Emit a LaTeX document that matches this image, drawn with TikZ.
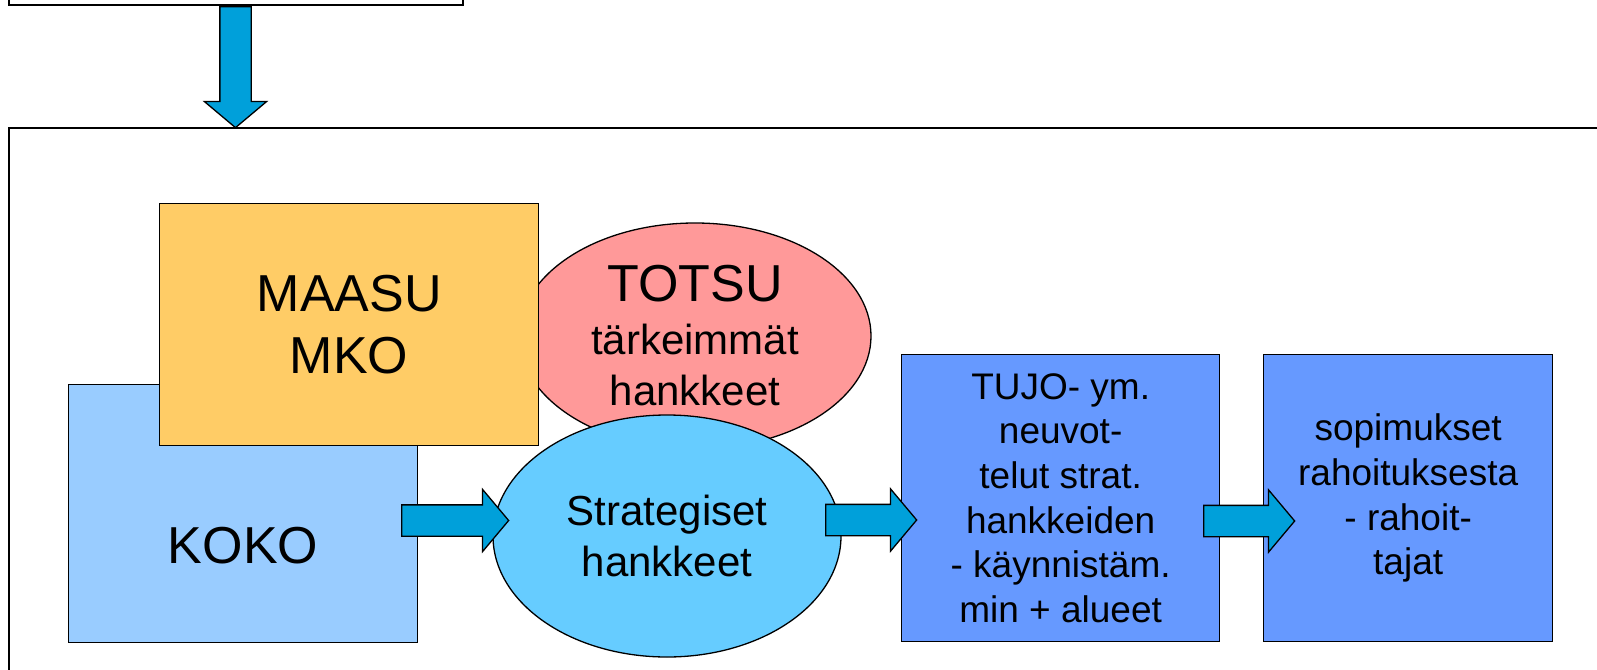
\documentclass[tikz,border=0pt]{standalone}
\usepackage{fontspec}
\setmainfont{Liberation Sans}
\usetikzlibrary{shapes.geometric,shapes.arrows}
\definecolor{maasucol}{RGB}{255,204,102}
\definecolor{totsucol}{RGB}{255,153,153}
\definecolor{kokocol}{RGB}{153,204,255}
\definecolor{stratcol}{RGB}{102,204,255}
\definecolor{boxcol}{RGB}{102,153,255}
\definecolor{arrowcol}{RGB}{0,160,218}
\newcommand{\hugetxt}{\fontsize{52}{62.4}\selectfont}
\newcommand{\midtxt}{\fontsize{42}{51}\selectfont}
\newcommand{\smalltxt}{\fontsize{37}{44.6}\selectfont}

\begin{document}
\begin{tikzpicture}[x=1pt, y=-1pt,
    colbox/.style={draw, line width=1.3pt, inner sep=0pt, align=center},
    blockarrow/.style={single arrow, draw, fill=arrowcol, line width=1.3pt, inner sep=15pt,
      single arrow head extend=15.5pt, single arrow tip angle=100}]
        \clip (0,0) rectangle (1597,669);
        \node[draw, line width=1.6pt, anchor=north west, minimum width=1700pt, minimum height=600pt] (frame) at (8,127) {};
        \node[draw, line width=1.6pt, anchor=south west, minimum width=454pt, minimum height=80pt] (topbox) at (8,6) {};
        \node[blockarrow, shape border rotate=270, minimum height=121pt, anchor=tail] (down) at ([xshift=227.5pt]topbox.south west) {};
        \node[colbox, fill=kokocol, anchor=north west, minimum width=349pt, minimum height=258pt] (koko) at (68,384) {};
        \node[colbox, ellipse, fill=totsucol, minimum width=352pt, minimum height=226pt, font=\midtxt] (totsu) at (695,336) {{\hugetxt TOTSU}\\[2pt]tärkeimmät\\hankkeet};
        \node[colbox, fill=maasucol, anchor=north west, minimum width=379pt, minimum height=242pt, font=\hugetxt] (maasu) at (159,203) {MAASU\\MKO};
        \node[colbox, ellipse, fill=stratcol, minimum width=348pt, minimum height=242pt, font=\midtxt] (strat) at (667,536) {Strategiset\\hankkeet};
        \node[colbox, fill=boxcol, anchor=north west, minimum width=318pt, minimum height=287pt, font=\smalltxt] (tujo) at (901,354) {TUJO- ym.\\neuvot-\\telut strat.\\hankkeiden\\- käynnistäm.\\min + alueet};
        \node[colbox, fill=boxcol, anchor=north west, minimum width=289pt, minimum height=287pt, font=\smalltxt] (sopim) at (1263,354) {sopimukset\\rahoituksesta\\- rahoit-\\tajat};
        \node[anchor=base, font=\hugetxt] (kokotxt) at (243,563) {KOKO};
        \node[blockarrow, minimum height=107pt, anchor=tail] (kokostrat) at (401,520.5) {};
        \node[blockarrow, minimum height=91pt, anchor=tail] (strattujo) at (825,520) {};
        \node[blockarrow, minimum height=91pt, anchor=tail] (tujosopim) at (1203,521) {};
\end{tikzpicture}
\end{document}
